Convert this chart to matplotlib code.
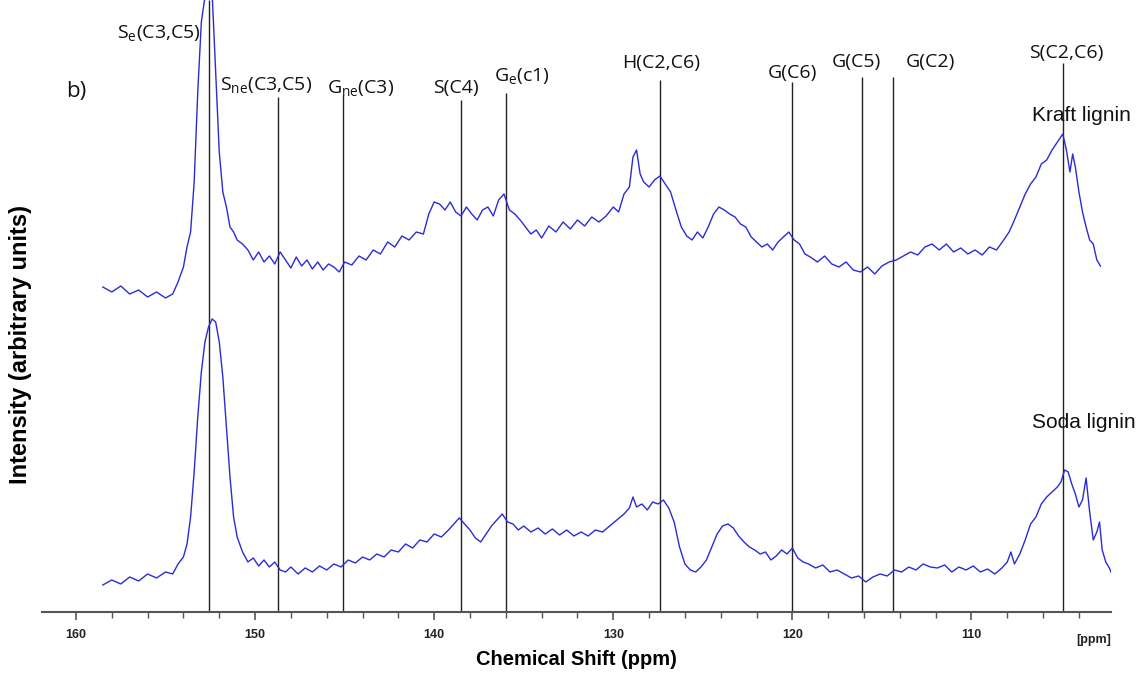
import matplotlib.pyplot as plt

plt.rcParams['mathtext.fontset'] = 'custom'
plt.rcParams['mathtext.rm'] = 'Open Sans'
plt.rcParams['mathtext.it'] = 'Open Sans'
plt.rcParams['mathtext.default'] = 'regular'

# Kraft lignin spectrum (ppm, intensity)
kraft_ppm = [158.5, 158.0, 157.5, 157.0, 156.5, 156.0, 155.5, 155.0, 154.6, 154.3,
             154.0, 153.8, 153.6, 153.4, 153.2, 153.0, 152.8, 152.6, 152.4, 152.2,
             152.0, 151.8, 151.6, 151.4, 151.2, 151.0, 150.7, 150.4, 150.1, 149.8,
             149.5, 149.2, 148.9, 148.6, 148.3, 148.0, 147.7, 147.4, 147.1, 146.8,
             146.5, 146.2, 145.9, 145.6, 145.3, 145.0, 144.6, 144.2, 143.8, 143.4,
             143.0, 142.6, 142.2, 141.8, 141.4, 141.0, 140.6, 140.3, 140.0, 139.7,
             139.4, 139.1, 138.8, 138.5, 138.2, 137.9, 137.6, 137.3, 137.0, 136.7,
             136.4, 136.1, 135.8, 135.5, 135.2, 134.9, 134.6, 134.3, 134.0, 133.6,
             133.2, 132.8, 132.4, 132.0, 131.6, 131.2, 130.8, 130.4, 130.0, 129.7,
             129.4, 129.1, 128.9, 128.7, 128.5, 128.3, 128.0, 127.7, 127.4, 127.1,
             126.8, 126.5, 126.2, 125.9, 125.6, 125.3, 125.0, 124.7, 124.4, 124.1,
             123.8, 123.5, 123.2, 122.9, 122.6, 122.3, 122.0, 121.7, 121.4, 121.1,
             120.8, 120.5, 120.2, 119.9, 119.6, 119.3, 119.0, 118.6, 118.2, 117.8,
             117.4, 117.0, 116.6, 116.2, 115.8, 115.4, 115.0, 114.6, 114.2, 113.8,
             113.4, 113.0, 112.6, 112.2, 111.8, 111.4, 111.0, 110.6, 110.2, 109.8,
             109.4, 109.0, 108.6, 108.2, 107.9, 107.6, 107.3, 107.0, 106.7, 106.4,
             106.1, 105.8, 105.5, 105.2, 104.9, 104.7, 104.5, 104.35, 104.2, 104.0,
             103.8, 103.6, 103.4, 103.2, 103.0, 102.8]
kraft_int = [325, 320, 326, 318, 322, 315, 320, 314, 318, 330,
             345, 365, 380, 430, 520, 590, 615, 640, 620, 540,
             460, 420, 405, 385, 380, 372, 368, 362, 352, 360,
             350, 356, 348, 360, 352, 344, 355, 346, 352, 343,
             350, 342, 348, 345, 340, 350, 347, 356, 352, 362,
             358, 370, 365, 376, 372, 380, 378, 398, 410, 408,
             402, 410, 400, 396, 405, 398, 392, 402, 405, 396,
             412, 418, 402, 398, 392, 385, 378, 382, 374, 386,
             380, 390, 383, 392, 386, 395, 390, 396, 405, 400,
             418, 425, 455, 462, 438, 430, 425, 432, 436, 428,
             420, 402, 385, 376, 372, 380, 374, 385, 398, 405,
             402, 398, 395, 388, 385, 375, 370, 365, 368, 362,
             370, 375, 380, 372, 368, 358, 355, 350, 356, 348,
             345, 350, 342, 340, 345, 338, 346, 350, 352, 356,
             360, 357, 365, 368, 362, 368, 360, 364, 358, 362,
             357, 365, 362, 372, 380, 392, 405, 418, 428, 435,
             448, 452, 462, 470, 478, 462, 440, 458, 445, 420,
             400, 385, 372, 368, 352, 346]

# Soda lignin spectrum (ppm, intensity)
soda_ppm = [158.5, 158.0, 157.5, 157.0, 156.5, 156.0, 155.5, 155.0, 154.6, 154.3,
            154.0, 153.8, 153.6, 153.4, 153.2, 153.0, 152.8, 152.6, 152.4, 152.2,
            152.0, 151.8, 151.6, 151.4, 151.2, 151.0, 150.7, 150.4, 150.1, 149.8,
            149.5, 149.2, 148.9, 148.6, 148.3, 148.0, 147.6, 147.2, 146.8, 146.4,
            146.0, 145.6, 145.2, 144.8, 144.4, 144.0, 143.6, 143.2, 142.8, 142.4,
            142.0, 141.6, 141.2, 140.8, 140.4, 140.0, 139.6, 139.2, 138.9, 138.6,
            138.3, 138.0, 137.7, 137.4, 137.1, 136.8, 136.5, 136.2, 135.9, 135.6,
            135.3, 135.0, 134.6, 134.2, 133.8, 133.4, 133.0, 132.6, 132.2, 131.8,
            131.4, 131.0, 130.6, 130.2, 129.8, 129.4, 129.1, 128.9, 128.7, 128.4,
            128.1, 127.8, 127.5, 127.2, 126.9, 126.6, 126.3, 126.0, 125.7, 125.4,
            125.1, 124.8, 124.5, 124.2, 123.9, 123.6, 123.3, 123.0, 122.7, 122.4,
            122.1, 121.8, 121.5, 121.2, 120.9, 120.6, 120.3, 120.0, 119.7, 119.4,
            119.1, 118.7, 118.3, 117.9, 117.5, 117.1, 116.7, 116.3, 115.9, 115.5,
            115.1, 114.7, 114.3, 113.9, 113.5, 113.1, 112.7, 112.3, 111.9, 111.5,
            111.1, 110.7, 110.3, 109.9, 109.5, 109.1, 108.7, 108.3, 108.0, 107.8,
            107.6, 107.3, 107.0, 106.7, 106.4, 106.1, 105.8, 105.5, 105.2, 105.0,
            104.8, 104.6, 104.4, 104.2, 104.0, 103.8, 103.6, 103.4, 103.2, 103.0,
            102.85, 102.7, 102.5, 102.3, 102.1]
soda_int = [27, 32, 28, 35, 31, 38, 34, 40, 38, 48,
            55, 68, 95, 140, 195, 240, 270, 285, 293, 290,
            270, 235, 185, 135, 95, 75, 60, 50, 54, 46,
            52, 45, 50, 42, 40, 45, 38, 44, 40, 46,
            42, 48, 45, 52, 49, 55, 52, 58, 55, 62,
            60, 68, 64, 72, 70, 78, 75, 82, 88, 94,
            88, 82, 74, 70, 78, 86, 92, 98, 90, 88,
            82, 86, 80, 84, 78, 83, 77, 82, 76, 80,
            76, 82, 80, 86, 92, 98, 104, 115, 105, 108,
            102, 110, 108, 112, 104, 90, 65, 48, 42, 40,
            45, 52, 65, 78, 86, 88, 84, 76, 70, 65,
            62, 58, 60, 52, 56, 62, 58, 64, 54, 50,
            48, 44, 47, 40, 42, 38, 34, 36, 30, 35,
            38, 36, 42, 40, 45, 42, 48, 45, 44, 47,
            40, 45, 42, 46, 40, 43, 38, 44, 50, 60,
            48, 58, 72, 88, 95, 108, 115, 120, 125, 130,
            142, 140, 128, 118, 105, 112, 134, 100, 72, 80,
            90, 62, 50, 44, 35]

# assignment lines: position, top of line, label, label x, label y
line_ppm = [152.6, 148.7, 145.1, 138.5, 136.0, 127.4, 120.0, 116.1, 114.4, 104.9]
line_top = [612, 515, 517, 512, 519, 532, 530, 535, 535, 549]
labels = ['S$_{e}$(C3,C5)', 'S$_{ne}$(C3,C5)', 'G$_{ne}$(C3)', 'S(C4)', 'G$_{e}$(c1)',
          'H(C2,C6)', 'G(C6)', 'G(C5)', 'G(C2)', 'S(C2,C6)']
label_x = [155.4, 149.4, 144.1, 138.8, 135.1, 127.3, 120.0, 116.4, 112.3, 104.7]
label_y = [579, 527, 524, 524, 536, 549, 539, 550, 550, 559]

fig = plt.figure(figsize=(11.46, 6.76), dpi=100)
ax = fig.add_axes([0.0366, 0.0947, 0.933, 0.9053])

ax.vlines(line_ppm, 0, line_top, color='#222222', lw=1.0)
ax.plot(kraft_ppm, kraft_int, color='#2b2bd6', lw=1.0)
ax.plot(soda_ppm, soda_int, color='#2b2bd6', lw=1.0)

for t, x, y in zip(labels, label_x, label_y):
    ax.text(x, y, t, ha='center', va='center', fontsize=14, family='Open Sans',
            color='#111111', clip_on=False)

ax.text(106.6, 496, 'Kraft lignin', ha='left', va='center', fontsize=15,
        family='Liberation Sans', color='#111111', clip_on=False)
ax.text(106.6, 189, 'Soda lignin', ha='left', va='center', fontsize=15,
        family='Liberation Sans', color='#111111', clip_on=False)
ax.text(160.55, 520, 'b)', ha='left', va='center', fontsize=16,
        family='Open Sans', color='#111111')

ax.set_xlim(161.9, 102.2)
ax.set_ylim(0, 612)
ax.set_xticks([160, 150, 140, 130, 120, 110])
ax.set_xticks(range(104, 162, 2), minor=True)
ax.set_yticks([])
for s in ['left', 'right', 'top']:
    ax.spines[s].set_visible(False)
ax.spines['bottom'].set_color('#555555')
ax.spines['bottom'].set_linewidth(1.5)
ax.tick_params(axis='x', which='major', length=6, width=1.2, color='#555555',
               labelsize=9, pad=6)
ax.tick_params(axis='x', which='minor', length=4, width=1.0, color='#555555')
for lab in ax.get_xticklabels():
    lab.set_fontweight('bold')
    lab.set_family('Liberation Sans')
    lab.set_color('#222222')
ax.annotate('[ppm]', xy=(103.2, 0), xycoords='data', xytext=(0, -20),
            textcoords='offset points', ha='center', va='center', fontsize=9,
            fontweight='bold', family='Liberation Sans', color='#222222',
            annotation_clip=False)

ax.set_xlabel('Chemical Shift (ppm)', fontsize=14.5, fontweight='bold',
              family='Liberation Sans', labelpad=7)
fig.text(0.0175, 0.49, 'Intensity (arbitrary units)', rotation=90, ha='center',
         va='center', fontsize=17, fontweight='bold', family='Liberation Sans')

fig.savefig('out.png', dpi=100)
